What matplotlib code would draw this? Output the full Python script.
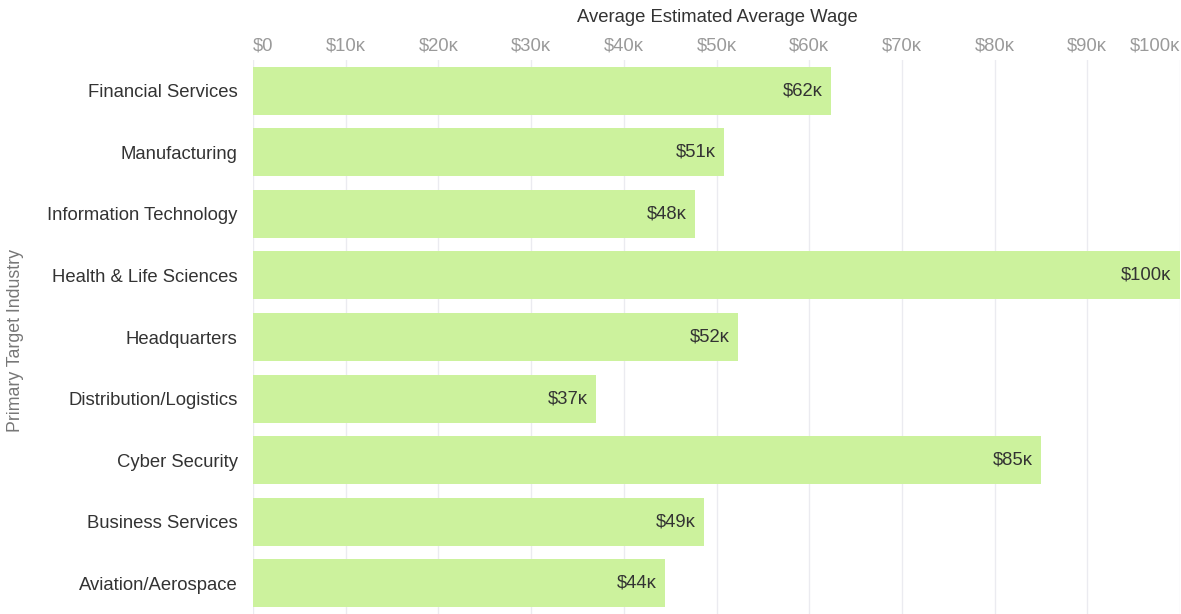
import numpy as np
import matplotlib.pyplot as plt

industries = ['Financial Services', 'Manufacturing', 'Information Technology',
              'Health & Life Sciences', 'Headquarters', 'Distribution/Logistics',
              'Cyber Security', 'Business Services', 'Aviation/Aerospace']
wages = [62.4, 50.8, 47.7, 100.0, 52.3, 37.0, 85.0, 48.7, 44.4]  # thousands
tick_vals = [0, 10, 20, 30, 40, 50, 60, 70, 80, 90, 100]

FONTS = ['Liberation Sans', 'DejaVu Sans']
plt.rcParams['font.family'] = FONTS


def fmt(v):
    return '$0' if v == 0 else f'${v:.0f}\u1d0b'


def main():
    fig = plt.figure(figsize=(11.81, 6.14), dpi=100)
    ax = fig.add_axes([253 / 1181, 0.0, 927 / 1181, 554 / 614])

    y = np.arange(len(industries))
    ax.barh(y, wages, height=0.78, color='#ccf29d', zorder=2)
    ax.set_ylim(len(industries) - 0.5, -0.5)
    ax.set_xlim(0, 100)

    for yi, w in zip(y, wages):
        ax.text(w - 0.9, yi, fmt(round(w)), ha='right', va='center',
                fontsize=13.3, color='#333333', zorder=3)

    ax.set_yticks(y)
    ax.set_yticklabels(industries, fontsize=13.3, color='#333333')
    ax.tick_params(axis='y', length=0, pad=11)

    ax.xaxis.tick_top()
    ax.set_xticks(tick_vals)
    ax.set_xticklabels([fmt(v) for v in tick_vals], fontsize=13.3, color='#9a9a9a')
    ax.tick_params(axis='x', length=0, pad=4)
    labs = ax.get_xticklabels()
    labs[0].set_ha('left')
    labs[-1].set_ha('right')

    ax.grid(axis='x', color='#ebebf0', linewidth=1, zorder=0)
    for s in ax.spines.values():
        s.set_visible(False)

    fig.text(717 / 1181, 1 - 17 / 614, 'Average Estimated Average Wage',
             ha='center', va='center', fontsize=13.3, color='#333333')
    fig.text(16 / 1181, 1 - 340 / 614, 'Primary Target Industry', rotation=90,
             ha='center', va='center', fontsize=12.8, color='#777777')

    fig.savefig('out.png', dpi=100)


if __name__ == '__main__':
    main()
